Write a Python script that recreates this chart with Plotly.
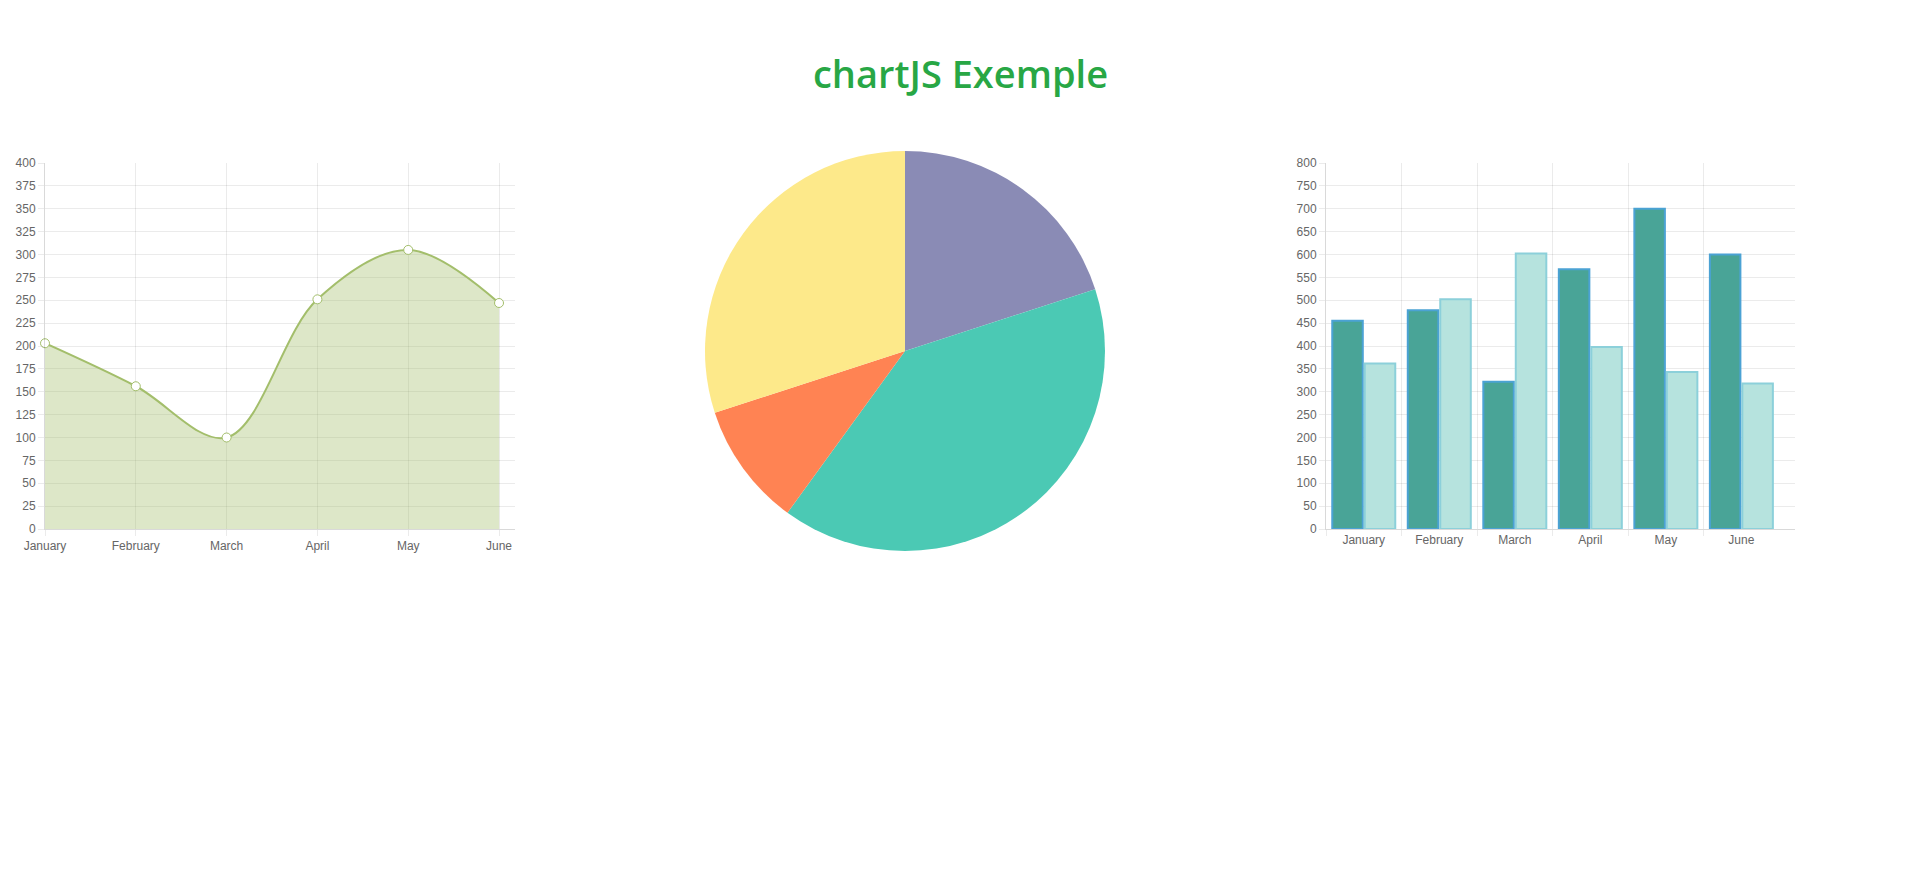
import plotly.graph_objects as go

# data
months = ["January", "February", "March", "April", "May", "June"]
line_values = [203, 156, 100, 251, 305, 247]
pie_labels = ["Purple", "Teal", "Orange", "Yellow"]
pie_values = [20, 40, 10, 30]
pie_colors = ["#8a8bb5", "#4bc9b4", "#ff8353", "#fde98a"]
bar_values_1 = [455, 478, 322, 568, 700, 600]
bar_values_2 = [362, 502, 602, 398, 343, 318]

W, H = 1904, 864  # page minus 8px body margin each side


def px_x(p):
    return (p - 8) / W


def px_y(p):
    return 1 - (p - 8) / H


grid = "rgba(0,0,0,0.08)"
axis_line = "rgba(0,0,0,0.15)"
tick_font = dict(family="Liberation Sans, Arial, sans-serif", size=12, color="#666")

idx = list(range(len(months)))

fig = go.Figure()

# line chart
fig.add_trace(go.Scatter(
    x=idx, y=line_values,
    mode="lines+markers",
    line=dict(color="rgb(163,190,107)", width=2, shape="spline", smoothing=1.0),
    fill="tozeroy",
    fillcolor="rgba(163,190,107,0.37)",
    marker=dict(size=9, color="white", line=dict(color="rgb(163,190,107)", width=1)),
    cliponaxis=False,
    xaxis="x", yaxis="y",
    showlegend=False,
))

# pie chart
fig.add_trace(go.Pie(
    labels=pie_labels, values=pie_values,
    marker=dict(colors=pie_colors, line=dict(width=0)),
    sort=False, direction="clockwise", rotation=0,
    textinfo="none",
    domain=dict(x=[px_x(705), px_x(1105)], y=[px_y(551), px_y(151)]),
    showlegend=False,
))

# bar chart
fig.add_trace(go.Bar(
    x=idx, y=bar_values_1,
    marker=dict(color="rgb(73,164,151)", line=dict(color="rgb(75,162,212)", width=2)),
    xaxis="x2", yaxis="y2", showlegend=False,
))
fig.add_trace(go.Bar(
    x=idx, y=bar_values_2,
    marker=dict(color="rgb(182,227,222)", line=dict(color="rgb(140,208,218)", width=2)),
    xaxis="x2", yaxis="y2", showlegend=False,
))

common_y = dict(
    showgrid=True, gridcolor=grid, gridwidth=1,
    showline=True, linecolor=axis_line, linewidth=1,
    ticks="outside", ticklen=6, tickcolor=grid,
    tickfont=tick_font, zeroline=False, fixedrange=True,
    automargin=False,
)

fig.update_layout(
    width=W, height=H,
    margin=dict(l=0, r=0, t=0, b=0, autoexpand=False),
    paper_bgcolor="white", plot_bgcolor="white",
    barmode="group", bargap=0.14, bargroupgap=0.06,
    xaxis=dict(
        domain=[px_x(45), px_x(515)], anchor="y",
        range=[0, 5.176],
        tickvals=idx, ticktext=months,
        showgrid=True, gridcolor=grid,
        showline=True, linecolor=axis_line,
        ticks="outside", ticklen=6, tickcolor=grid,
        tickfont=tick_font, zeroline=False, automargin=False,
    ),
    yaxis=dict(
        domain=[px_y(529), px_y(163)], anchor="x",
        range=[0, 400], dtick=25, **common_y,
    ),
    xaxis2=dict(
        domain=[px_x(1326), px_x(1795)], anchor="y2",
        range=[-0.5, 5.71],
        tickvals=idx, ticktext=months, ticks="",
        showgrid=False,
        showline=True, linecolor=axis_line,
        tickfont=tick_font, zeroline=False, automargin=False,
        minor=dict(tickvals=[i - 0.5 for i in idx], showgrid=True, gridcolor=grid,
                   ticks="outside", ticklen=6, tickcolor=grid),
    ),
    yaxis2=dict(
        domain=[px_y(529), px_y(163)], anchor="x2",
        range=[0, 800], dtick=50, **common_y,
    ),
    annotations=[dict(
        text="chartJS Exemple", x=px_x(960), y=px_y(73),
        xref="paper", yref="paper", xanchor="center", yanchor="middle",
        showarrow=False,
        font=dict(family="Open Sans, Noto Sans, sans-serif", size=38, weight=600, color="#28a745"),
    )],
)

fig.write_html("out.html")
